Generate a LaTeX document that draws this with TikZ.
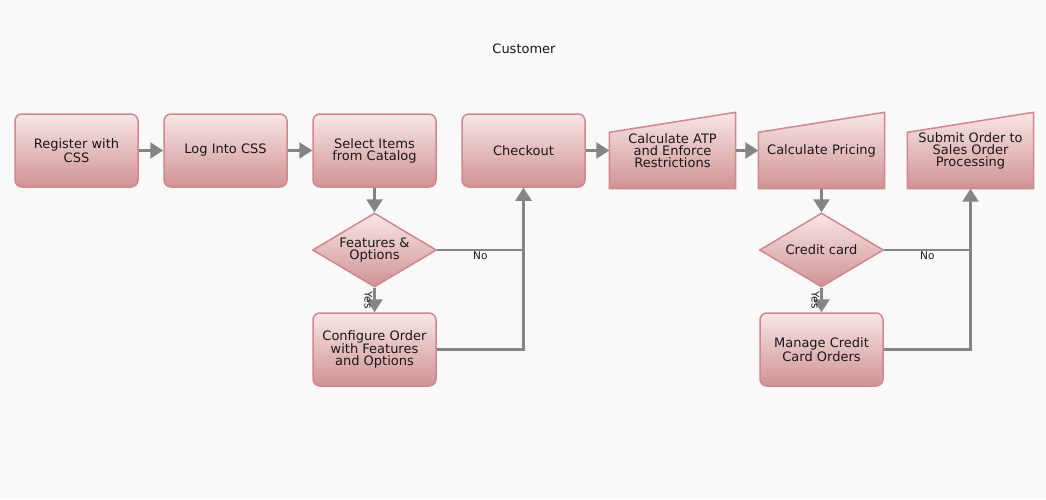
\documentclass[tikz,border=0pt]{standalone}
\usepackage{fontspec}
\setmainfont{DejaVu Sans}
\usetikzlibrary{arrows.meta, positioning, shapes.geometric, calc, backgrounds}

\definecolor{boxtop}{HTML}{F8E6E6}
\definecolor{boxbot}{HTML}{D09294}
\definecolor{boxline}{HTML}{D4868A}
\definecolor{flow}{HTML}{858585}
\definecolor{canvas}{HTML}{F9F9F9}

\begin{document}
\begin{tikzpicture}[
        node distance = 99.5pt and 149pt, on grid,
        >= {Triangle[width = 16pt, length = 13pt, fill = flow]},
        font = \fontsize{13}{12}\selectfont, text = black!90,
        task/.style = {draw = boxline, line width = 1.5pt, rounded corners = 7pt, top color = boxtop, bottom color = boxbot,
            minimum width = 123pt, minimum height = 73pt, align = center},
        manual/.style = {minimum width = 126pt, minimum height = 76pt, align = center},
        choice/.style = {diamond, aspect = 1.67, draw = boxline, line width = 1.5pt, top color = boxtop, bottom color = boxbot,
            minimum width = 124pt, minimum height = 74pt, inner sep = 0pt, align = center},
        flowline/.style = {draw = flow, line width = 2.6pt},
        answer/.style = {font = \fontsize{10.5}{11}\selectfont, inner sep = 1pt}
    ]
      \useasboundingbox (0,0) rectangle (1046pt,-499pt);
      \node (title) at (524pt,-49pt) {Customer};

      \node[task] (register) at (76.5pt,-150.5pt) {Register with\\CSS};
        \node[task] (login) [right = of register] {Log Into CSS};
        \node[task] (select) [right = of login] {Select Items\\from Catalog};
        \node[task] (checkout) [right = of select] {Checkout};
        \node[manual] (atp) [right = of checkout] {Calculate ATP\\and Enforce\\Restrictions};
        \node[manual] (pricing) [right = of atp] {Calculate Pricing};
        \node[manual] (submit) [right = of pricing] {Submit Order to\\Sales Order\\Processing};
      \node[choice] (features) [below = of select] {Features \&\\Options};
        \node[task] (configure) [below = of features] {Configure Order\\with Features\\and Options};
      \node[choice] (credit) [below = of pricing] {Credit card};
        \node[task] (manage) [below = of credit] {Manage Credit\\Card Orders};

      \path[->, flowline]
        (register) edge (login)
        (login) edge (select)
        (select) edge (features)
        (features) edge node [answer, rotate = -90, anchor = north] {Yes} (configure)
        (checkout) edge (atp)
        (atp) edge (pricing)
        (pricing) edge (credit)
        (credit) edge node [answer, rotate = -90, anchor = north] {Yes} (manage);

      \draw[flowline] (features) -- node [answer, below] {No} (features -| checkout);
      \draw[flowline, ->] (configure) -| (checkout);
      \draw[flowline] (credit) -- node [answer, below] {No} (credit -| submit);
      \draw[flowline, ->] (manage) -| (submit);

      \begin{scope}[on background layer]
        \fill[canvas] (0,0) rectangle (1046pt,-499pt);
        \foreach \n in {atp, pricing, submit}
          \shade[draw = boxline, line width = 1.5pt, top color = boxtop, bottom color = boxbot]
            (\n.south west) -- (\n.south east) -- (\n.north east) -- ($(\n.north west) + (0,-20pt)$) -- cycle;
      \end{scope}
    \end{tikzpicture}
\end{document}
